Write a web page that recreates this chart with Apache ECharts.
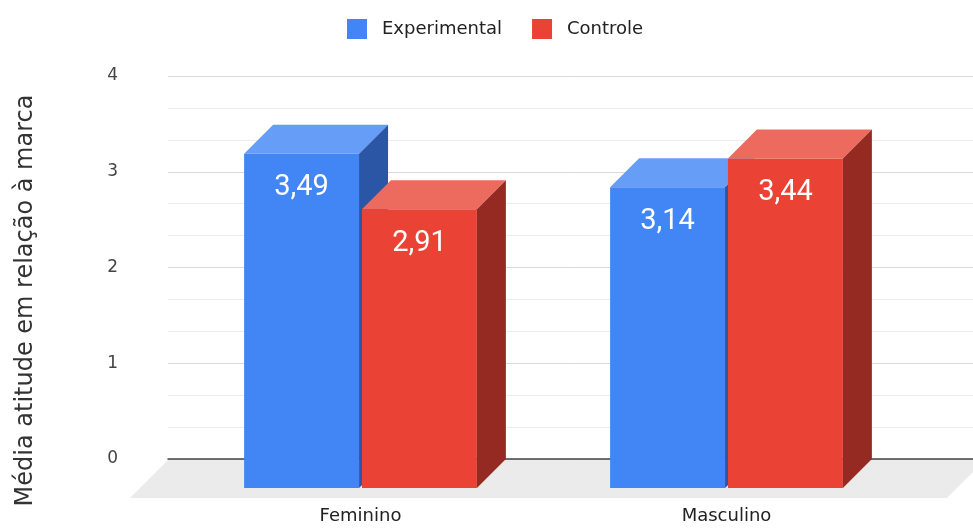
<!DOCTYPE html>
<html>
<head>
<meta charset="utf-8">
<script src="https://cdn.jsdelivr.net/npm/echarts@6/dist/echarts.min.js"></script>
<style>
  html, body { margin: 0; padding: 0; background: #fff; }
  #chart { width: 973px; height: 528px; }
</style>
</head>
<body>
<div id="chart"></div>
<script>
// Mean brand attitude by gender, experimental vs. control group
const categories = ['Feminino', 'Masculino'];
const seriesNames = ['Experimental', 'Controle'];
const experimental = [3.49, 3.14];
const controle = [2.91, 3.44];
const yMin = 0;
const yMax = 4;
const yInterval = 1;

const palette = {
  Experimental: { front: '#4285f4', top: '#669df6', side: '#2b56a6' },
  Controle: { front: '#ea4335', top: '#ed6a5e', side: '#952a22' }
};

const DEPTH = 29;          // oblique depth offset of the 3D boxes (px)
const FLOOR_DEPTH = 38;    // depth of the gray floor slab (px)

function fmt(v) {
  return v.toFixed(2).replace('.', ',');
}

// Draws one 3D box per category; slot 0 sits left of the band centre, slot 1 right
function boxRenderer(slot, colors) {
  return function (params, api) {
    const cat = api.value(0);
    const val = api.value(1);
    const base = api.coord([cat, 0]);
    const top = api.coord([cat, val]);
    const band = api.size([1, 0])[0];
    const w = band * 0.314;
    const gap = band * 0.008;
    const d = DEPTH;
    const backLeft = slot === 0 ? base[0] - gap / 2 - w : base[0] + gap / 2;
    const fl = backLeft - d;
    const fr = fl + w;
    const ft = top[1] + d;
    const fb = base[1] + d;
    return {
      type: 'group',
      children: [
        { type: 'rect', shape: { x: fl, y: ft, width: w, height: fb - ft }, style: { fill: colors.front } },
        { type: 'polygon', shape: { points: [[fl, ft], [fr, ft], [fr + d, ft - d], [fl + d, ft - d]] }, style: { fill: colors.top } },
        { type: 'polygon', shape: { points: [[fr, ft], [fr + d, ft - d], [fr + d, base[1]], [fr, fb]] }, style: { fill: colors.side } },
        {
          type: 'text',
          x: fl + w / 2,
          y: ft + 34,
          style: {
            text: fmt(val),
            fill: '#ffffff',
            fontSize: 29,
            fontFamily: 'Roboto',
            align: 'center',
            verticalAlign: 'middle'
          }
        }
      ]
    };
  };
}

// Gray floor slab under the plot, derived from the back grid's extent
function floorRenderer(params, api) {
  const cs = params.coordSys;
  const y0 = cs.y + cs.height + 1;
  const x0 = cs.x;
  const x1 = cs.x + cs.width + 12;
  return {
    type: 'polygon',
    shape: { points: [[x0, y0], [x1, y0], [x1 - FLOOR_DEPTH, y0 + FLOOR_DEPTH], [x0 - FLOOR_DEPTH, y0 + FLOOR_DEPTH]] },
    style: { fill: '#ebebeb' },
    silent: true
  };
}

const chart = echarts.init(document.getElementById('chart'), null, { renderer: 'canvas' });

chart.setOption({
  animation: false,
  backgroundColor: '#ffffff',
  legend: {
    data: seriesNames,
    left: 342,
    top: 14,
    itemWidth: 20,
    itemHeight: 20,
    itemGap: 30,
    icon: 'rect',
    textStyle: { fontFamily: 'DejaVu Sans', fontSize: 18, color: '#222', padding: [0, 0, 0, 10] }
  },
  grid: [
    { left: 168, right: 0, top: 76, bottom: 69 },
    { left: 206.5, right: 34.5, top: 76, bottom: 69 }
  ],
  xAxis: [
    {
      gridIndex: 0,
      type: 'category',
      data: categories,
      z: 3,
      axisLine: { show: true, lineStyle: { color: '#444', width: 1.5 } },
      axisTick: { show: false },
      axisLabel: { show: false },
      splitLine: { show: false }
    },
    {
      gridIndex: 1,
      type: 'category',
      data: categories,
      axisLine: { show: false },
      axisTick: { show: false },
      axisLabel: {
        margin: 48,
        fontFamily: 'DejaVu Sans',
        fontSize: 18,
        color: '#222',
        padding: [0, 58, 0, 0]
      }
    }
  ],
  yAxis: [
    {
      gridIndex: 0,
      type: 'value',
      min: yMin,
      max: yMax,
      interval: yInterval,
      name: 'Média atitude em relação à marca',
      nameLocation: 'middle',
      nameGap: 130,
      nameTextStyle: { fontFamily: 'DejaVu Sans', fontSize: 24, color: '#333', padding: [0, 66, 0, 0] },
      axisLine: { show: false },
      axisTick: { show: false },
      axisLabel: { margin: 50, fontFamily: 'DejaVu Sans', fontSize: 17, color: '#444' },
      splitLine: { show: true, lineStyle: { color: '#d9d9d9', width: 1 } },
      minorTick: { show: false, splitNumber: 3 },
      minorSplitLine: { show: true, lineStyle: { color: '#ececec', width: 1 } }
    },
    {
      gridIndex: 1,
      type: 'value',
      min: yMin,
      max: yMax,
      interval: yInterval,
      show: false,
      splitLine: { show: false }
    }
  ],
  series: [
    {
      type: 'custom',
      name: 'floor',
      xAxisIndex: 0,
      yAxisIndex: 0,
      z: 1,
      silent: true,
      renderItem: floorRenderer,
      data: [[0, 0]]
    },
    {
      type: 'custom',
      name: seriesNames[0],
      xAxisIndex: 1,
      yAxisIndex: 1,
      z: 4,
      itemStyle: { color: palette.Experimental.front },
      renderItem: boxRenderer(0, palette.Experimental),
      data: categories.map((c, i) => [i, experimental[i]])
    },
    {
      type: 'custom',
      name: seriesNames[1],
      xAxisIndex: 1,
      yAxisIndex: 1,
      z: 5,
      itemStyle: { color: palette.Controle.front },
      renderItem: boxRenderer(1, palette.Controle),
      data: categories.map((c, i) => [i, controle[i]])
    }
  ]
});
</script>
</body>
</html>
